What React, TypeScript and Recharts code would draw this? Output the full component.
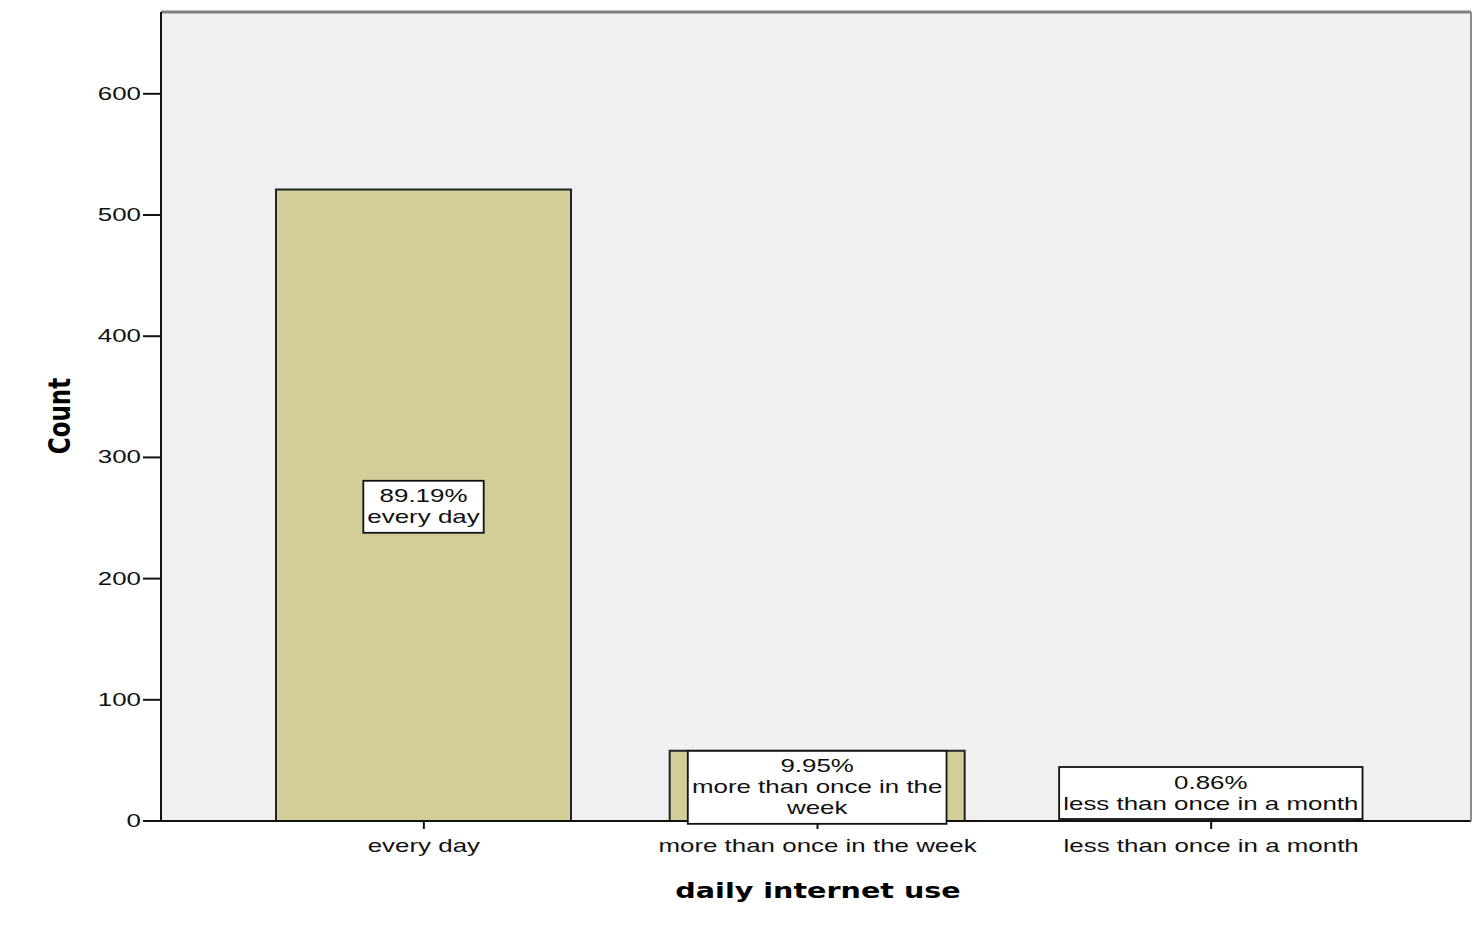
import React from 'react';
import { BarChart, Bar, XAxis, YAxis, CartesianGrid, LabelList, ReferenceLine, Label } from 'recharts';

const categories = ['every day', 'more than once in the week', 'less than once in a month'];
const counts = [521, 58, 5];
const percentLabels = ['89.19%', '9.95%', '0.86%'];
const boxLines = [['every day'], ['more than once in the', 'week'], ['less than once in a month']];
const yTicks = [0, 100, 200, 300, 400, 500, 600];
const yMax = 667.5;
const xTitle = 'daily internet use';
const yTitle = 'Count';

const data = categories.map((c, i) => ({ name: c, count: counts[i], idx: i }));

const FONT = "'Liberation Sans', Arial, sans-serif";
const FS = 18;
const SX = 1.44;
const TEXT = '#111';

let ctx: CanvasRenderingContext2D | null = null;
function measure(t: string): number {
  if (!ctx) ctx = document.createElement('canvas').getContext('2d');
  if (!ctx) return t.length * FS * 0.55;
  ctx.font = `${FS}px 'Liberation Sans'`;
  return ctx.measureText(t).width;
}

const XTick = (props: any) => {
  const { x, y, payload } = props;
  return (
    <g transform={`translate(${x},${y}) scale(${SX},1)`}>
      <text x={0} y={0} dy={23} textAnchor="middle" fontFamily={FONT} fontSize={FS} fill={TEXT}>
        {payload.value}
      </text>
    </g>
  );
};

const YTick = (props: any) => {
  const { x, y, payload } = props;
  return (
    <g transform={`translate(${x},${y}) scale(${SX},1)`}>
      <text x={0} y={0} dy={6} textAnchor="end" fontFamily={FONT} fontSize={FS} fill={TEXT}>
        {payload.value}
      </text>
    </g>
  );
};

const BoxLabel = (props: any) => {
  const { x, y, width, height, value } = props;
  const i = Number(value);
  const lines = [percentLabels[i], ...boxLines[i]];
  const lh = 21;
  const bh = lines.length * lh + 10;
  const tw = Math.max(...lines.map(measure)) * SX + 8;
  const cx = Number(x) + Number(width) / 2;
  const axisY = Number(y) + Number(height);
  let top = Number(y) + Number(height) / 2 - bh / 2 + 1.5;
  if (top + bh > axisY + 3) top = axisY - 2 - bh;
  return (
    <g>
      <rect x={cx - tw / 2} y={top} width={tw} height={bh} fill="#fff" stroke="#111" strokeWidth={1.8} />
      {lines.map((l, k) => (
        <g key={k} transform={`translate(${cx},${top + 5 + lh * k + lh / 2}) scale(${SX},1)`}>
          <text x={0} y={0} dy={6} textAnchor="middle" fontFamily={FONT} fontSize={FS} fill={TEXT}>
            {l}
          </text>
        </g>
      ))}
    </g>
  );
};

const XTitle = (props: any) => {
  const vb = props.viewBox || {};
  const cx = vb.x + vb.width / 2;
  return (
    <g transform={`translate(${cx + 2},898) scale(1.3,1)`}>
      <text x={0} y={0} textAnchor="middle" fontFamily="'DejaVu Sans', sans-serif" fontWeight="bold" fontSize={22} fill="#000">
        {xTitle}
      </text>
    </g>
  );
};

const YTitle = () => {
  return (
    <g transform={`translate(70,416) scale(1.3,1) rotate(-90)`}>
      <text x={0} y={0} textAnchor="middle" fontFamily="'DejaVu Sans', sans-serif" fontWeight="bold" fontSize={23} fill="#000">
        {yTitle}
      </text>
    </g>
  );
};

export default function App() {
  return (
    <div style={{ position: 'absolute', left: 0, top: 0, width: 1472, height: 930, background: '#fff' }}>
      <BarChart width={1472} height={930} data={data} margin={{ top: 12, right: 0, bottom: 0, left: 0 }}>
        <CartesianGrid horizontal={false} vertical={false} fill="#f0f0f0" yAxisId="left" />
        <XAxis
          dataKey="name"
          height={109}
          padding={{ left: 66, right: 63 }}
          tickLine={{ stroke: '#111', strokeWidth: 2 }}
          tickSize={8}
          tickMargin={0}
          axisLine={{ stroke: '#111', strokeWidth: 2 }}
          tick={<XTick />}
          interval={0}
        >
          <Label content={<XTitle />} />
        </XAxis>
        <YAxis
          yAxisId="left"
          width={161}
          domain={[0, yMax]}
          ticks={yTicks}
          tickSize={18}
          tickMargin={2}
          tickLine={{ stroke: '#111', strokeWidth: 2 }}
          axisLine={{ stroke: '#111', strokeWidth: 2 }}
          tick={<YTick />}
          allowDataOverflow
        >
          <Label content={<YTitle />} />
        </YAxis>
        <YAxis
          yAxisId="right"
          orientation="right"
          width={1}
          domain={[0, yMax]}
          tick={false}
          tickLine={false}
          axisLine={{ stroke: '#8a8a8a', strokeWidth: 2 }}
        />
        <ReferenceLine yAxisId="left" y={yMax} stroke="#808080" strokeWidth={3} />
        <Bar
          yAxisId="left"
          dataKey="count"
          fill="#d3ce98"
          stroke="#222"
          strokeWidth={2}
          barSize={295}
          isAnimationActive={false}
        >
          <LabelList dataKey="idx" content={<BoxLabel />} />
        </Bar>
      </BarChart>
    </div>
  );
}
